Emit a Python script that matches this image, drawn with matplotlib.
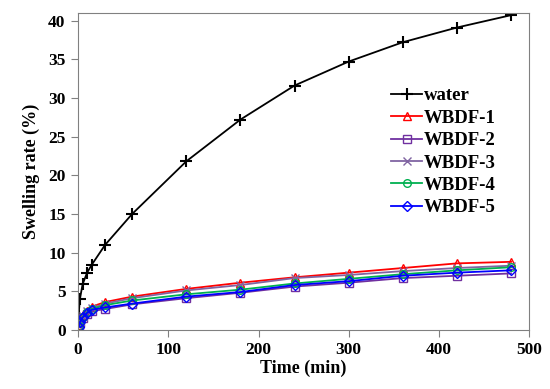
import matplotlib
matplotlib.use("Agg")
import matplotlib.pyplot as plt

plt.rcParams['font.family'] = ['Liberation Serif', 'DejaVu Serif']
plt.rcParams['font.weight'] = 'bold'

time = [0.5, 2, 5, 10, 15, 30, 60, 120, 180, 240, 300, 360, 420, 480]
water = [1.8, 4.0, 5.9, 7.4, 8.4, 11.0, 15.0, 21.8, 27.2, 31.6, 34.7, 37.2, 39.1, 40.7]
wbdf1 = [0.6, 1.2, 1.9, 2.5, 3.0, 3.6, 4.3, 5.3, 6.1, 6.8, 7.4, 8.0, 8.6, 8.8]
wbdf2 = [0.4, 0.9, 1.5, 2.0, 2.4, 2.7, 3.3, 4.1, 4.8, 5.6, 6.1, 6.7, 7.0, 7.3]
wbdf3 = [0.5, 1.1, 1.8, 2.4, 2.8, 3.4, 4.1, 5.1, 5.8, 6.7, 7.1, 7.6, 8.0, 8.3]
wbdf4 = [0.5, 1.0, 1.7, 2.3, 2.7, 3.2, 3.8, 4.6, 5.2, 6.0, 6.6, 7.2, 7.7, 8.1]
wbdf5 = [0.4, 1.0, 1.6, 2.2, 2.6, 2.9, 3.4, 4.3, 4.9, 5.8, 6.3, 7.0, 7.4, 7.7]

fig = plt.figure(figsize=(5.5, 3.89), dpi=100)
ax = fig.add_axes([0.142, 0.152, 0.82, 0.815])

ax.plot(time, water, color='black', marker='+', ms=9, mew=1.5, lw=1.3, label='water')
ax.plot(time, wbdf1, color='#FF0000', marker='^', ms=5.5, mfc='none', mew=1, lw=1.3, label='WBDF-1')
ax.plot(time, wbdf2, color='#7030A0', marker='s', ms=5.5, mfc='none', mew=1, lw=1.3, label='WBDF-2')
ax.plot(time, wbdf3, color='#8064A2', marker='x', ms=6, mew=1, lw=1.3, label='WBDF-3')
ax.plot(time, wbdf4, color='#00B050', marker='o', ms=5.5, mfc='none', mew=1, lw=1.3, label='WBDF-4')
ax.plot(time, wbdf5, color='#0000FF', marker='D', ms=5, mfc='none', mew=1, lw=1.3, label='WBDF-5')

ax.set_xlim(0, 500)
ax.set_ylim(0, 41)
ax.set_xticks(range(0, 501, 100))
ax.set_yticks(range(0, 41, 5))
ax.tick_params(direction='out', length=5, color='#808080', labelsize=12.5, pad=4)
for s in ax.spines.values():
    s.set_color('#808080')
ax.set_xlabel('Time (min)', fontsize=13, fontweight='bold', labelpad=1)
ax.set_ylabel('Swelling rate (%)', fontsize=13, fontweight='bold', labelpad=6)

ax.legend(loc='upper left', bbox_to_anchor=(0.694, 0.765), frameon=False, fontsize=13.5,
          borderpad=0, borderaxespad=0, handlelength=1.65, handletextpad=0.1,
          labelspacing=0.28)

fig.savefig('out.png', dpi=100)
